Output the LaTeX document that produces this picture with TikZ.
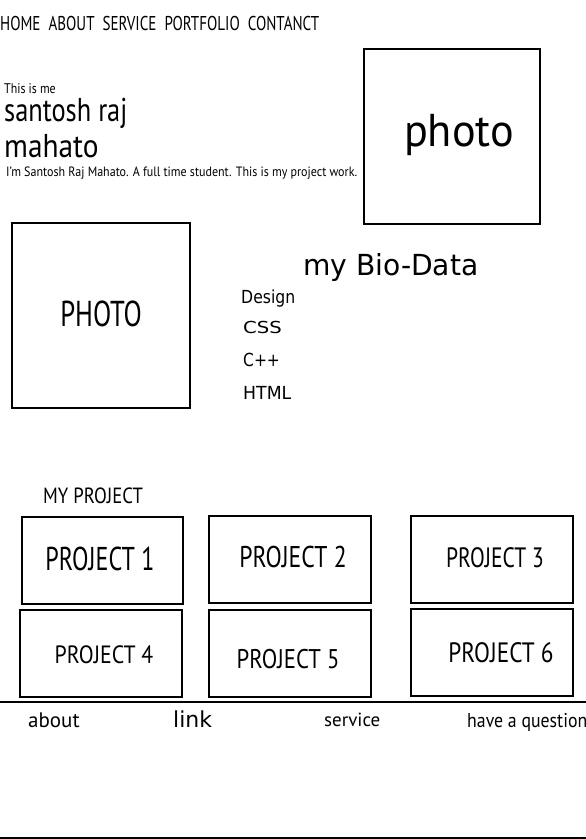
\documentclass[tikz,border=0pt]{standalone}
\usepackage{fontspec}
\usepackage{graphicx}
\setmainfont{PT Sans}
\newfontfamily\widefont{DejaVu Sans}
\newcommand{\xs}[2]{\scalebox{#1}[1]{#2}}
\begin{document}
\begin{tikzpicture}[x=1pt,y=-1pt,
  box/.style={draw=black,line width=1.4pt},
  txt/.style={anchor=base west,inner sep=0pt,text=black},
  ctxt/.style={anchor=base,inner sep=0pt,text=black}]
\useasboundingbox (0,0) rectangle (586,839);
\fill[white] (0,0) rectangle (586,839);
% nav
\node[txt,font=\fontsize{20}{20}\selectfont] (nav) at (0,30) {\xs{0.752}{HOME\ \ ABOUT\ \ SERVICE\ \ PORTFOLIO\ \ CONTANCT}};
% intro
\node[txt,font=\fontsize{14}{14}\selectfont] (me) at (4,93) {\xs{0.85}{This is me}};
\node[txt,font=\fontsize{33}{33}\selectfont] (name1) at (4,121) {\xs{0.80}{santosh raj}};
\node[txt,font=\fontsize{33}{33}\selectfont] (name2) at (4,157) {\xs{0.89}{mahato}};
\node[txt,font=\fontsize{13.5}{14}\selectfont] (desc) at (6,176) {\xs{0.89}{I'm Santosh Raj Mahato. A full time student. This is my project work.}};
% photo boxes
\draw[box] (364,49) rectangle (540,224);
\node[ctxt,font=\fontsize{46}{46}\selectfont] (ph1) at (459,146) {\xs{0.96}{photo}};
\draw[box] (12,223) rectangle (190,408);
\node[ctxt,font=\fontsize{36}{36}\selectfont] (ph2) at (101,326) {\xs{0.74}{PHOTO}};
% bio
\node[txt,font=\widefont\fontsize{29}{29}\selectfont] (bio) at (303,275) {\xs{0.97}{my Bio-Data}};
\node[txt,font=\widefont\fontsize{18}{18}\selectfont] (design) at (241,303) {\xs{0.87}{Design}};
\node[txt,font=\widefont\fontsize{16.5}{16.5}\selectfont] (css) at (243,333) {\xs{1.19}{CSS}};
\node[txt,font=\widefont\fontsize{18}{18}\selectfont] (cpp) at (243,366) {\xs{0.86}{C++}};
\node[txt,font=\widefont\fontsize{18}{18}\selectfont] (html) at (243,399) {\xs{0.96}{HTML}};
% projects
\node[txt,font=\fontsize{22}{22}\selectfont] (myp) at (43,503) {\xs{0.85}{MY PROJECT}};
\draw[box] (22,517) rectangle (183,604);
\draw[box] (209,516) rectangle (371,603);
\draw[box] (411,516) rectangle (573,603);
\draw[box] (20,610) rectangle (182,697);
\draw[box] (209,610) rectangle (371,697);
\draw[box] (411,609) rectangle (573,696);
\node[ctxt,font=\fontsize{33}{33}\selectfont] (p1) at (100,570) {\xs{0.73}{PROJECT 1}};
\node[ctxt,font=\fontsize{30}{30}\selectfont] (p2) at (293,567) {\xs{0.79}{PROJECT 2}};
\node[ctxt,font=\fontsize{28}{28}\selectfont] (p3) at (495,567) {\xs{0.77}{PROJECT 3}};
\node[ctxt,font=\fontsize{25}{25}\selectfont] (p4) at (104,663) {\xs{0.87}{PROJECT 4}};
\node[ctxt,font=\fontsize{27}{27}\selectfont] (p5) at (288,668) {\xs{0.84}{PROJECT 5}};
\node[ctxt,font=\fontsize{28}{28}\selectfont] (p6) at (501,662) {\xs{0.83}{PROJECT 6}};
% footer
\draw[line width=1.6pt] (0,702) -- (586,702);
\node[txt,font=\fontsize{21}{21}\selectfont] (about) at (28,727) {about};
\node[txt,font=\widefont\fontsize{22}{22}\selectfont] (link) at (173,727) {link};
\node[txt,font=\fontsize{19}{19}\selectfont] (service) at (324,726) {service};
\node[txt,font=\fontsize{20}{20}\selectfont] (question) at (467,727) {\xs{0.89}{have a question}};
\draw[line width=1.6pt] (0,838) -- (586,838);
\end{tikzpicture}
\end{document}
